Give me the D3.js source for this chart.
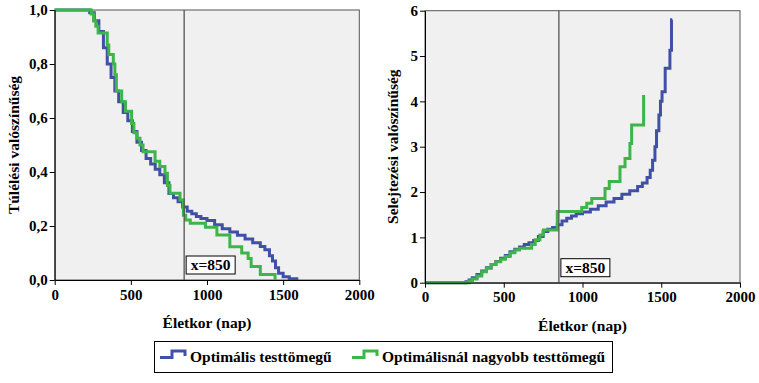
<!DOCTYPE html>
<html><head><meta charset="utf-8">
<script src="https://cdn.jsdelivr.net/npm/d3@7"></script>
<style>body{margin:0;background:#fff}svg{display:block}text{font-family:"Liberation Serif","Times New Roman",serif;font-weight:bold;fill:#000}</style>
</head><body><svg id="c" width="759" height="383"></svg>
<script>
// ---- data ----
const survTicks = [0, 0.2, 0.4, 0.6, 0.8, 1.0];
const survTickLabels = ["0,0","0,2","0,4","0,6","0,8","1,0"];
const hazTicks = [0,1,2,3,4,5,6];
const xTicks = [0,500,1000,1500,2000];
const markerX = 850;
const seriesNames = ["Optimális testtömegű","Optimálisnál nagyobb testtömegű"];

// survival, optimal (time, S)
const survOptT = [0,200,230,260,290,320,345,370,395,420,450,480,510,540,570,600,630,660,690,720,750,780,810,840,870,900,930,960,1000,1050,1100,1150,1200,1250,1300,1350,1380,1410,1430,1450,1470,1500,1540,1590];
const survOptS = [1.0,1.0,0.99,0.96,0.92,0.86,0.80,0.75,0.70,0.66,0.62,0.59,0.55,0.51,0.48,0.45,0.43,0.41,0.39,0.36,0.32,0.305,0.29,0.27,0.255,0.245,0.235,0.228,0.22,0.205,0.19,0.178,0.166,0.152,0.138,0.124,0.112,0.09,0.07,0.045,0.025,0.012,0.005,0.0];
// survival, overweight
const survOvT = [0,240,255,270,285,345,355,385,395,405,440,465,505,520,540,560,580,659,690,724,740,757,823,845,860,890,990,1065,1150,1228,1270,1290,1350,1447];
const survOvS = [1.0,0.985,0.96,0.94,0.915,0.87,0.835,0.80,0.76,0.70,0.66,0.625,0.58,0.545,0.525,0.50,0.475,0.44,0.42,0.395,0.35,0.321,0.296,0.24,0.222,0.21,0.195,0.167,0.123,0.10,0.08,0.05,0.02,0.0];
// cumulative hazard, optimal
const hazOptT = [0,240,260,280,300,330,360,390,420,450,480,510,540,570,600,630,660,690,720,750,780,810,840,870,900,930,960,1000,1050,1100,1150,1200,1250,1300,1350,1380,1410,1430,1445,1460,1470,1485,1495,1505,1525,1555,1565,1570];
const hazOptH = [0,0,0.02,0.06,0.11,0.18,0.26,0.33,0.40,0.47,0.54,0.60,0.68,0.74,0.79,0.84,0.88,0.93,1.02,1.13,1.18,1.22,1.28,1.36,1.42,1.47,1.52,1.56,1.62,1.70,1.78,1.86,1.95,2.03,2.12,2.20,2.32,2.48,2.70,3.0,3.35,3.7,4.0,4.21,4.73,5.13,5.8,5.8];
// cumulative hazard, overweight
const hazOvT = [0,250,280,300,330,360,390,420,450,480,510,540,570,600,677,700,730,752,840,995,1027,1059,1143,1170,1238,1270,1301,1312,1388];
const hazOvH = [0,0,0.04,0.08,0.15,0.24,0.32,0.40,0.46,0.52,0.58,0.66,0.72,0.76,0.84,0.95,1.05,1.16,1.57,1.66,1.75,1.86,2.08,2.23,2.56,2.74,3.07,3.48,4.14];

// ---- drawing ----
const BLUE = "#3F50A6", GREEN = "#3DB54A";
const svg = d3.select("#c");

function panel(o){
  const x = d3.scaleLinear().domain([0,2000]).range([o.x0,o.x1]);
  const y = d3.scaleLinear().domain(o.ydom).range([o.yb,o.yt]);
  const g = svg.append("g");
  g.append("rect").attr("x",o.x0).attr("y",o.yt).attr("width",o.x1-o.x0).attr("height",o.yb-o.yt)
    .attr("fill","#F0F0F0").attr("stroke","#555").attr("stroke-width",1);
  const ln = d3.line().x(d=>x(d[0])).y(d=>y(d[1])).curve(d3.curveStepAfter);
  o.series.forEach(s=>{
    g.append("path").attr("d",ln(d3.zip(s.t,s.v))).attr("fill","none")
      .attr("stroke",s.c).attr("stroke-width",3).attr("stroke-linejoin","miter");
  });
  g.append("line").attr("x1",x(markerX)).attr("x2",x(markerX)).attr("y1",o.yt).attr("y2",o.yb)
    .attr("stroke","#555").attr("stroke-width",1.3);
  const bx = x(markerX)+2, bw = 49, bh = 18, by = o.yb-6-bh;
  g.append("rect").attr("x",bx).attr("y",by).attr("width",bw).attr("height",bh).attr("fill","#fff").attr("stroke","#000").attr("stroke-width",1);
  g.append("text").attr("x",bx+bw/2).attr("y",by+bh-4).attr("text-anchor","middle").style("font-size","15.5px").text("x="+markerX);
  const ax = d3.axisBottom(x).tickValues(xTicks).tickSize(5).tickSizeOuter(0).tickFormat(d3.format("d"));
  const axg = g.append("g").attr("transform",`translate(0,${o.yb})`).call(ax);
  const ay = d3.axisLeft(y).tickValues(o.ticks).tickSize(5).tickSizeOuter(0).tickFormat((d,i)=>o.labels[i]);
  const ayg = g.append("g").attr("transform",`translate(${o.x0},0)`).call(ay);
  [axg,ayg].forEach(a=>{a.select(".domain").attr("stroke","#000");a.selectAll("line").attr("stroke","#000");
    a.selectAll("text").style("font-size","15px").style("font-family",'"Liberation Serif",serif').style("font-weight","bold").attr("fill","#000");});
  axg.selectAll("text").attr("dy","0.71em").attr("y",9);
  ayg.selectAll("text").attr("x",-7);
  g.append("text").attr("x",(o.x0+o.x1)/2).attr("y",o.yb+48).attr("text-anchor","middle").style("font-size","15.5px").text("Életkor (nap)");
  g.append("text").attr("transform",`translate(${o.ytx},${(o.yt+o.yb)/2}) rotate(-90)`).attr("text-anchor","middle").style("font-size","15.5px").text(o.ytitle);
}

panel({x0:54.7,x1:359.3,yt:10,yb:280,ydom:[0,1],ticks:survTicks,labels:survTickLabels,ytx:19,ytitle:"Túlélési valószínűség",
  series:[{t:survOptT,v:survOptS,c:BLUE},{t:survOvT,v:survOvS,c:GREEN}]});
panel({x0:425,x1:740,yt:10.7,yb:282.7,ydom:[0,6],ticks:hazTicks,labels:hazTicks.map(String),ytx:398,ytitle:"Selejtezési valószínűség",
  series:[{t:hazOptT,v:hazOptH,c:BLUE},{t:hazOvT,v:hazOvH,c:GREEN}]});

// legend
const lg = svg.append("g");
lg.append("rect").attr("x",154.5).attr("y",341.5).attr("width",458).attr("height",31).attr("fill","#fff").attr("stroke","#000");
const items = [{x:160,c:BLUE,n:seriesNames[0]},{x:352,c:GREEN,n:seriesNames[1]}];
items.forEach(it=>{
  lg.append("path").attr("d",`M${it.x},${357.5}H${it.x+12}V${351}H${it.x+25}V${356}`).attr("fill","none").attr("stroke",it.c).attr("stroke-width",3);
  lg.append("text").attr("x",it.x+30).attr("y",362).style("font-size","15.5px").text(it.n);
});
</script></body></html>
